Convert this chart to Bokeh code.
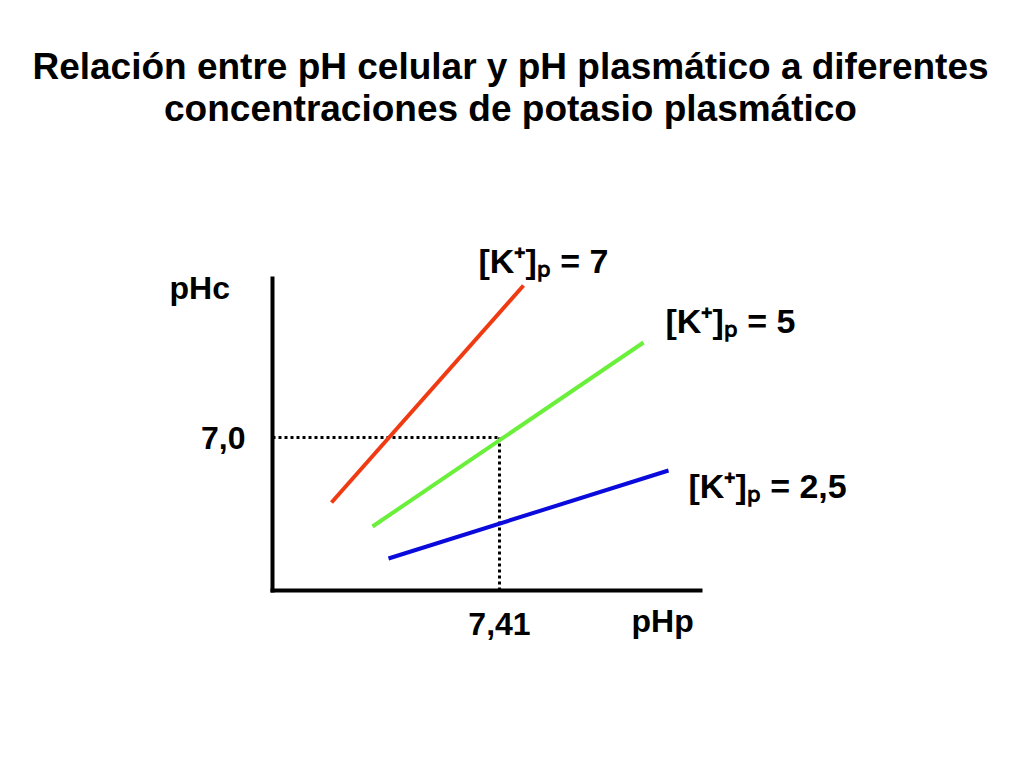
from bokeh.plotting import figure
from bokeh.models import Range1d, Label, FixedTicker
from bokeh.embed import file_html
from bokeh.resources import INLINE

# ---- data (schematic values) ----
series_labels = ["[K⁺]ₚ = 7", "[K⁺]ₚ = 5", "[K⁺]ₚ = 2,5"]
php_start = [7.242, 7.283, 7.299]
php_end = [7.434, 7.554, 7.579]
phc_start = [6.935, 6.911, 6.879]
phc_end = [7.152, 7.095, 6.967]
series_colors = ["#F03A12", "#6AF03A", "#0A0ADC"]
ref_php = 7.41
ref_phc = 7.0
ref_php_label = "7,41"
ref_phc_label = "7,0"
x_axis_name = "pHp"
y_axis_name = "pHc"
title_lines = ["Relación entre pH celular y pH plasmático a diferentes",
               "concentraciones de potasio plasmático"]

# ---- layout mapping (page px <-> data) ----
X0, KX = 7.183, 1000.0      # pHp value at the y-axis, px per unit
Y0, KY = 6.847, 1000.0      # pHc value at the x-axis, px per unit
AX_L, AX_B = 272, 590       # page position of the axes corner
W, H = 1008, 752


def dx(px):
    return X0 + (px - AX_L) / KX


def dy(py):
    return Y0 + (AX_B - py) / KY


def text_y(baseline_px, size):
    # empirical correction of the rendered baseline
    return dy(baseline_px - 0.35 * size)


FONT = "Liberation Sans"

p = figure(width=W, height=H, output_backend="svg", toolbar_location=None,
           x_range=Range1d(dx(0), dx(W)), y_range=Range1d(dy(H), dy(0)),
           min_border_left=0, min_border_bottom=0, min_border_right=0, min_border_top=0)
p.outline_line_color = None
p.grid.visible = False
p.background_fill_color = "white"
p.border_fill_color = "white"

for ax in (p.xaxis, p.yaxis):
    ax.axis_line_width = 4
    ax.axis_line_color = "black"
    ax.axis_line_cap = "square"
    ax.major_tick_in = 0
    ax.major_tick_out = 0
    ax.minor_tick_in = 0
    ax.minor_tick_out = 0
    ax.major_label_text_font = FONT
    ax.major_label_text_font_style = "bold"
    ax.major_label_text_font_size = "32px"
    ax.major_label_text_color = "black"

p.xaxis.ticker = FixedTicker(ticks=[ref_php])
p.xaxis.major_label_overrides = {ref_php: ref_php_label}
p.xaxis.fixed_location = Y0
p.xaxis.bounds = (X0, dx(700))
p.xaxis.major_label_standoff = 22
p.yaxis.ticker = FixedTicker(ticks=[ref_phc])
p.yaxis.major_label_overrides = {ref_phc: ref_phc_label}
p.yaxis.fixed_location = X0
p.yaxis.bounds = (Y0, dy(278))
p.yaxis.major_label_standoff = 27

# dotted reference lines
p.segment(x0=[X0, ref_php], y0=[ref_phc, Y0], x1=[ref_php, ref_php], y1=[ref_phc, ref_phc],
          line_color="black", line_width=3, line_dash="3 3")

# series lines
p.segment(x0=php_start, y0=phc_start, x1=php_end, y1=phc_end,
          line_color=series_colors, line_width=4)


def add_text(txt, lx, base, size, align="left"):
    p.add_layout(Label(x=dx(lx), y=text_y(base, size), text=txt, text_font=FONT,
                       text_font_style="bold", text_font_size=f"{size}px",
                       text_baseline="alphabetic", text_align=align, text_color="black"))


# series labels
label_pos = [(478, 272), (665, 332), (688, 497)]
for txt, (lx, ly) in zip(series_labels, label_pos):
    add_text(txt, lx, ly, 34)

# axis names
add_text(y_axis_name, 169, 299, 32)
add_text(x_axis_name, 631, 632, 32)

# title
for txt, by in zip(title_lines, [79, 121]):
    add_text(txt, 510, by, 37, align="center")

open("out.html", "w").write(file_html(p, INLINE))
